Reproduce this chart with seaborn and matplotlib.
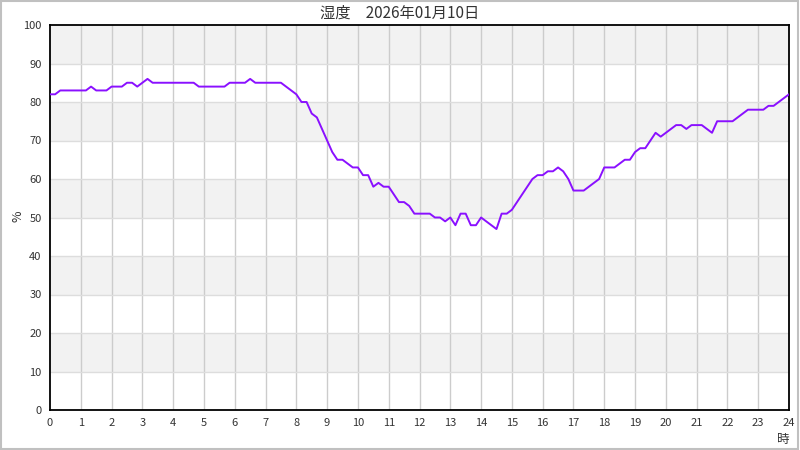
import numpy as np
import pandas as pd
import matplotlib
import seaborn as sns
import matplotlib.pyplot as plt
from matplotlib.patches import Rectangle

matplotlib.use('Agg')

title = '湿度　2026年01月10日'
step_min = 10  # measurements every 10 minutes, 0:00 .. 24:00

# humidity (%), one row per hour
humidity = [
    82, 82, 83, 83, 83, 83,   # 0
    83, 83, 84, 83, 83, 83,   # 1
    84, 84, 84, 85, 85, 84,   # 2
    85, 86, 85, 85, 85, 85,   # 3
    85, 85, 85, 85, 85, 84,   # 4
    84, 84, 84, 84, 84, 85,   # 5
    85, 85, 85, 86, 85, 85,   # 6
    85, 85, 85, 85, 84, 83,   # 7
    82, 80, 80, 77, 76, 73,   # 8
    70, 67, 65, 65, 64, 63,   # 9
    63, 61, 61, 58, 59, 58,   # 10
    58, 56, 54, 54, 53, 51,   # 11
    51, 51, 51, 50, 50, 49,   # 12
    50, 48, 51, 51, 48, 48,   # 13
    50, 49, 48, 47, 51, 51,   # 14
    52, 54, 56, 58, 60, 61,   # 15
    61, 62, 62, 63, 62, 60,   # 16
    57, 57, 57, 58, 59, 60,   # 17
    63, 63, 63, 64, 65, 65,   # 18
    67, 68, 68, 70, 72, 71,   # 19
    72, 73, 74, 74, 73, 74,   # 20
    74, 74, 73, 72, 75, 75,   # 21
    75, 75, 76, 77, 78, 78,   # 22
    78, 78, 79, 79, 80, 81,   # 23
    82,                       # 24
]
hour_ticks = list(range(0, 25))
pct_ticks = list(range(0, 101, 10))

df = pd.DataFrame({'hour': np.arange(len(humidity)) * step_min / 60, 'humidity': humidity})

sns.set_style('white')
plt.rcParams['font.family'] = ['Noto Sans CJK JP', 'DejaVu Sans']

fig = plt.figure(figsize=(8, 4.5), dpi=100)
ax = fig.add_axes([50 / 800, 40 / 450, 739 / 800, 385 / 450])

# alternating bands
for lo in range(10, 100, 20):
    ax.axhspan(lo, lo + 10, color='#f2f2f2', zorder=0, lw=0)

for h in hour_ticks[1:-1]:
    ax.axvline(h, color='#cccccc', lw=1, zorder=1)
for p in pct_ticks[1:-1]:
    ax.axhline(p, color='#dddddd', lw=1, zorder=1)

sns.lineplot(data=df, x='hour', y='humidity', color='#8a10ff', lw=1.4, ax=ax, zorder=3)

ax.set_xlim(0, 24)
ax.set_ylim(0, 100)
ax.set_xticks(hour_ticks)
ax.set_yticks(pct_ticks)
ax.tick_params(length=0, labelsize=8, colors='#333333', pad=6)
for s in ax.spines.values():
    s.set_color('black')
    s.set_linewidth(1.3)

ax.set_xlabel('')
ax.set_ylabel('')
fig.text(18 / 800, 1 - 216 / 450, '%', fontsize=9, color='#333333', rotation=90,
         ha='center', va='center')
fig.text(783 / 800, 1 - 440 / 450, '時', fontsize=9, color='#333333', ha='center', va='center')
fig.text(0.5, 1 - 13 / 450, title, fontsize=11, color='#333333', ha='center', va='center')

fig.add_artist(Rectangle((0.001, 0.002), 0.997, 0.995, transform=fig.transFigure,
                         fill=False, edgecolor='#c0c0c0', lw=1.5))

fig.savefig('out.png', dpi=100)
